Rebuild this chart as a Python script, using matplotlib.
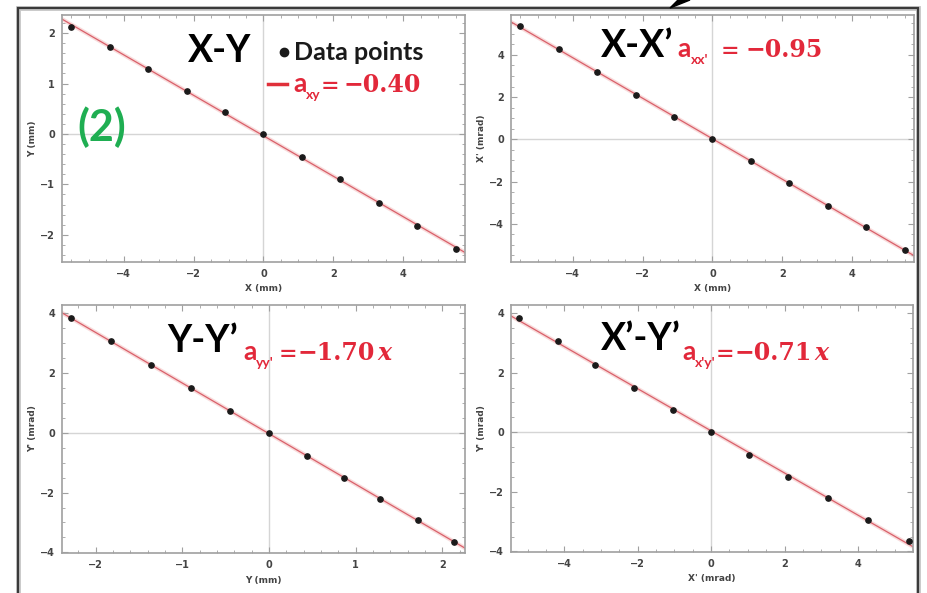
import numpy as np
import matplotlib
matplotlib.use('Agg')
import matplotlib.pyplot as plt
from matplotlib.ticker import MultipleLocator
from matplotlib.patches import Rectangle, Polygon
from matplotlib.lines import Line2D

# datos (11 puntos por eje)
X = [-5.5, -4.4, -3.3, -2.2, -1.1, 0.0, 1.1, 2.2, 3.3, 4.4, 5.5]
Y = [2.13, 1.72, 1.28, 0.86, 0.44, 0.0, -0.45, -0.90, -1.36, -1.83, -2.29]
Xp = [5.38, 4.28, 3.18, 2.10, 1.04, 0.0, -1.04, -2.09, -3.16, -4.17, -5.22]
Yp = [-3.65, -2.93, -2.22, -1.50, -0.77, 0.0, 0.73, 1.49, 2.27, 3.05, 3.83]

W, H = 928, 593
fig = plt.figure(figsize=(W/100, H/100), dpi=100)
fig.patch.set_facecolor('white')

def rect(l, t, r, b):
    return [l/W, 1-b/H, (r-l)/W, (b-t)/H]

def fx(x):
    return x/W

def fy(y):
    return 1-y/H

paneles = [
    # x, y, caja, xlim, ylim, xmaj, ymaj, xlabel, ylabel
    (X, Y, rect(62, 15, 465, 262), (-5.76, 5.76), (-2.54, 2.36), 2, 1, 'X (mm)', 'Y (mm)'),
    (X, Xp, rect(511, 15, 914, 262), (-5.76, 5.76), (-5.81, 5.89), 2, 2, 'X (mm)', "X' (mrad)"),
    (Y, Yp, rect(62, 305, 465, 553), (-2.39, 2.26), (-4.02, 4.27), 1, 2, 'Y (mm)', "Y' (mrad)"),
    (Xp, Yp, rect(511, 305, 913, 552), (-5.45, 5.5), (-4.02, 4.27), 2, 2, "X' (mrad)", "Y' (mrad)"),
]

gris = '#a0a0a0'
for (xs, ys, caja, xl, yl, xm, ym, xlab, ylab) in paneles:
    ax = fig.add_axes(caja)
    xs = np.array(xs)
    ys = np.array(ys)
    ax.axhline(0, color='#d5d5d5', lw=1, zorder=0)
    ax.axvline(0, color='#d5d5d5', lw=1, zorder=0)
    # ajuste lineal
    p = np.polyfit(xs, ys, 1)
    xx = np.array(xl)
    ax.plot(xx, np.polyval(p, xx), color='#f4c4c4', lw=3, alpha=0.6, zorder=1)
    ax.plot(xx, np.polyval(p, xx), color='#d9606a', lw=0.9, zorder=2)
    ax.plot(xs, ys, 'o', color='#1a1a1a', markersize=3.8, zorder=3)
    ax.set_xlim(xl)
    ax.set_ylim(yl)
    ax.xaxis.set_major_locator(MultipleLocator(xm))
    ax.yaxis.set_major_locator(MultipleLocator(ym))
    ax.xaxis.set_minor_locator(MultipleLocator(xm/4 if xm == 2 else xm/5))
    ax.yaxis.set_minor_locator(MultipleLocator(ym/4 if ym == 2 else ym/5))
    ax.tick_params(which='both', direction='in', top=True, right=True, colors=gris,
                   labelcolor='#444444', labelsize=7)
    ax.tick_params(which='major', length=4, width=0.8, pad=5)
    ax.tick_params(which='minor', length=2, width=0.6)
    for lab in ax.get_xticklabels() + ax.get_yticklabels():
        lab.set_fontweight('bold')
    for s in ax.spines.values():
        s.set_color(gris)
        s.set_linewidth(1.2)
    ax.set_xlabel(xlab, fontsize=6.5, color='#444444', fontweight='bold', labelpad=4)
    ax.set_ylabel(ylab, fontsize=6.5, color='#444444', fontweight='bold', labelpad=2)

# borde exterior
fig.patches.append(Rectangle((fx(18), fy(600)), fx(918)-fx(18), fy(8)-fy(600),
                             transform=fig.transFigure, fill=False, ec='#c8c8c8', lw=3.5))
fig.patches.append(Rectangle((fx(18), fy(600)), fx(918)-fx(18), fy(8)-fy(600),
                             transform=fig.transFigure, fill=False, ec='#3a3a3a', lw=1.6))
fig.patches.append(Polygon([[fx(670), fy(8)], [fx(678), fy(0)], [fx(690), fy(0)]],
                           closed=True, transform=fig.transFigure, fc='black', ec='black'))

# textos grandes
big = dict(family='Lato', fontweight='bold', fontsize=27, color='black', va='baseline', ha='left')
fig.text(fx(188), fy(62), 'X-Y', **big)
fig.text(fx(601), fy(57), 'X-X\u2019', **big)
fig.text(fx(167), fy(352), 'Y-Y\u2019', **big)
fig.text(fx(601), fy(350), 'X\u2019-Y\u2019', **big)

fig.text(fx(77), fy(127), '(2)', family='Lato', fontweight='bold', fontsize=31,
         color='#1fae52', va='center', ha='left')

# leyenda del panel 1
fig.lines.append(Line2D([fx(284)], [fy(52)], marker='o', markersize=6, color='#1a1a1a',
                        transform=fig.transFigure))
fig.text(fx(294), fy(60), 'Data points', family='Lato', fontweight='bold', fontsize=18,
         color='#1a1a1a', va='baseline', ha='left')
fig.lines.append(Line2D([fx(268), fx(287)], [fy(84), fy(84)], color='#e0303a', lw=2.5,
                        transform=fig.transFigure))

rojo = '#e2283a'
renderer = fig.canvas.get_renderer()

def ecuacion(x0, yb, piezas):
    # cada pieza: (texto, familia, tamano, estilo, desplazamiento vertical, hueco antes)
    x = x0
    for (s, fam, tam, estilo, dy, hueco) in piezas:
        x += hueco
        t = fig.text(fx(x), fy(yb + dy), s, family=fam, fontweight='bold', style=estilo,
                     fontsize=tam, color=rojo, va='baseline', ha='left')
        bb = t.get_window_extent(renderer)
        x += bb.width

serif = 'DejaVu Serif'
ecuacion(293, 92, [('a', 'Lato', 19, 'normal', 0, 0), ('xy', 'Lato', 10, 'normal', 7, 0),
                   ('=', serif, 16, 'normal', 0, 0), ('\u22120.40', serif, 17, 'normal', 0, 4)])
ecuacion(677, 57, [('a', 'Lato', 19, 'normal', 0, 0), ("xx'", 'Lato', 10, 'normal', 7, 1),
                   ('=', serif, 16, 'normal', 0, 12), ('\u22120.95', serif, 17, 'normal', 0, 6)])
ecuacion(243, 360, [('a', 'Lato', 19, 'normal', 0, 0), ("yy'", 'Lato', 10, 'normal', 7, 0),
                    ('=', serif, 16, 'normal', 0, 5), ('\u22121.70', serif, 17, 'normal', 0, 0),
                    ('x', serif, 17, 'italic', 0, 2)])
ecuacion(682, 360, [('a', 'Lato', 19, 'normal', 0, 0), ("x'y'", 'Lato', 10, 'normal', 7, 0),
                    ('=', serif, 16, 'normal', 0, 0), ('\u22120.71', serif, 17, 'normal', 0, 0),
                    ('x', serif, 17, 'italic', 0, 2)])

fig.savefig('out.png', dpi=100)
